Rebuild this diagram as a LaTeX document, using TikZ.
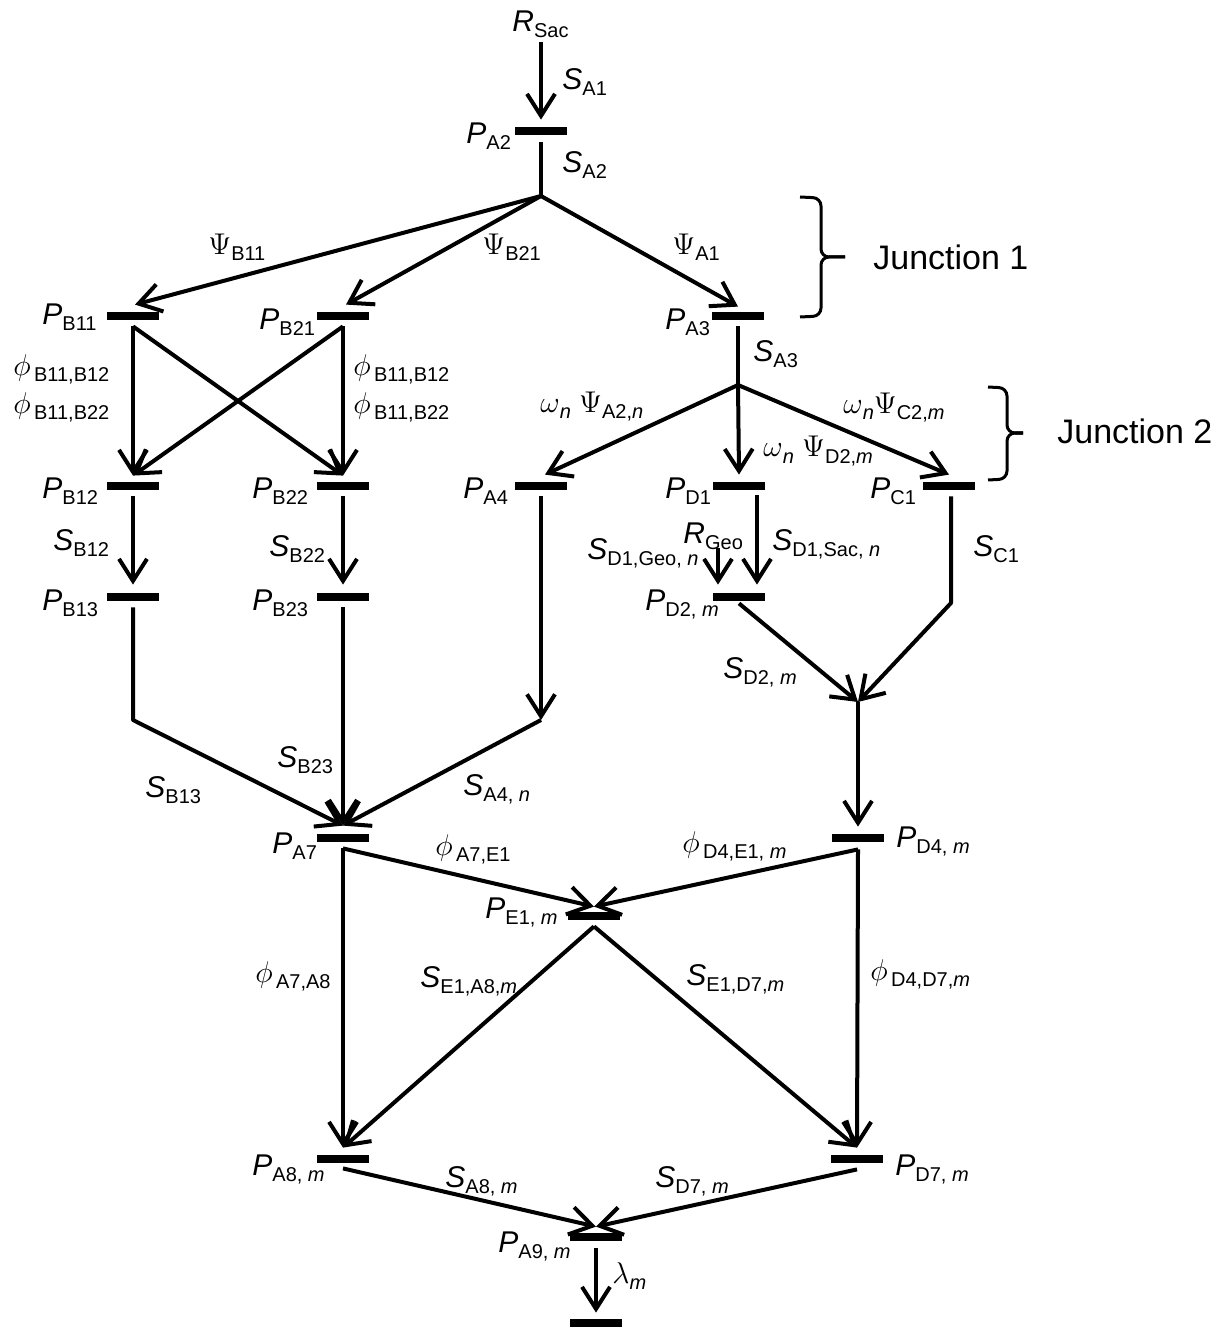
\RequirePackage{fix-cm}
\documentclass[tikz,border=0pt]{standalone}
\usepackage[no-math]{fontspec}
\setmainfont{Liberation Sans}
\usetikzlibrary{arrows.meta}
\newcommand\mainsz{\fontsize{15}{17}\selectfont}
\newcommand\subsz{\fontsize{10}{11}\selectfont}
\newcommand\V[2]{\textit{#1}\raisebox{-3pt}{\subsz #2}}
\newcommand\G[2]{$#1$\raisebox{-3pt}{\subsz #2}}
\begin{document}
\begin{tikzpicture}[x=0.5pt,y=-0.5pt,
  bar/.style={rectangle,fill=black,draw=none,minimum width=26pt,minimum height=4pt,inner sep=0pt},
  ln/.style={line width=2pt},
  arr/.style={line width=2pt,line join=round,-{Straight Barb[length=11pt,width=14pt]}},
  lbl/.style={anchor=base west,inner sep=0pt,font=\mainsz},
  jtxt/.style={anchor=base west,inner sep=0pt,font=\fontsize{17}{19}\selectfont},
  brc/.style={line width=1.5pt,rounded corners=4pt}]
\path[use as bounding box] (0,0) rectangle (1224,1331);
% bars
\node[bar] (PA2) at (541,131) {};
\node[bar] (PB11) at (133,316) {};
\node[bar] (PB21) at (343,316) {};
\node[bar] (PA3) at (738,316) {};
\node[bar] (PB12) at (133,486) {};
\node[bar] (PB22) at (343,486) {};
\node[bar] (PA4) at (541,486) {};
\node[bar] (PD1) at (739,486) {};
\node[bar] (PC1) at (949,486) {};
\node[bar] (PB13) at (133,597) {};
\node[bar] (PB23) at (343,597) {};
\node[bar] (PD2) at (739,597) {};
\node[bar] (PA7) at (343,838) {};
\node[bar] (PD4) at (858,838) {};
\node[bar] (PE1) at (594,916) {};
\node[bar] (PA8) at (343,1159) {};
\node[bar] (PD7) at (857,1159) {};
\node[bar] (PA9) at (596,1237) {};
\node[bar] (PEnd) at (596,1323) {};
% junction points
\coordinate (RSacS) at (541,42);
\coordinate (J1) at (541,196);
\coordinate (J2) at (738,385);
\coordinate (cB13) at (133,720);
\coordinate (cA4) at (541,720);
\coordinate (cC1) at (951,603);
\coordinate (cD4) at (858,702);
\coordinate (RGeoS) at (718,548);
% connectors
\draw[arr] (RSacS) -- ([yshift=3.5pt]PA2.north);
\draw[ln] ([yshift=-3.5pt]PA2.south) -- (J1);
\draw[arr] (J1) -- ([xshift=1pt,yshift=3.5pt]PB11.north);
\draw[arr] (J1) -- ([xshift=1.5pt,yshift=3.5pt]PB21.north);
\draw[arr] (J1) -- ([yshift=2.5pt]PA3.north);
\draw[ln] ([yshift=-3pt]PA3.south) -- (J2);
\draw[arr] (J2) -- ([xshift=2pt,yshift=3.5pt]PA4.north);
\draw[arr] (J2) -- ([yshift=3.5pt]PD1.north);
\draw[arr] (J2) -- ([yshift=3.5pt]PC1.north);
\draw[arr] ([yshift=-3pt]PB11.south) -- ([yshift=3pt]PB12.north);
\draw[arr] ([yshift=-3pt]PB11.south) -- ([yshift=3pt]PB22.north);
\draw[arr] ([yshift=-3pt]PB21.south) -- ([yshift=3pt]PB22.north);
\draw[arr] ([yshift=-3pt]PB21.south) -- ([yshift=3pt]PB12.north);
\draw[arr] ([yshift=-3pt]PB12.south) -- ([yshift=4pt]PB13.north);
\draw[arr] ([yshift=-3pt]PB22.south) -- ([yshift=4pt]PB23.north);
\draw[arr] ([yshift=-3pt]PB13.south) -- (cB13) -- ([yshift=4pt]PA7.north);
\draw[arr] ([yshift=-3pt]PB23.south) -- ([yshift=4pt]PA7.north);
\draw[arr] ([yshift=-3pt]PA4.south) -- (cA4);
\draw[arr] (cA4) -- ([yshift=4pt]PA7.north);
\draw[arr] ([xshift=9pt,yshift=-2.5pt]PD1.south) -- ([xshift=9pt,yshift=4pt]PD2.north);
\draw[arr] (RGeoS) -- ([xshift=-10.5pt,yshift=4pt]PD2.north);
\draw[arr] ([xshift=1pt,yshift=-3pt]PC1.south) -- (cC1) -- (cD4);
\draw[arr] ([yshift=-1pt]PD2.south) -- (cD4);
\draw[arr] (cD4) -- ([yshift=3.5pt]PD4.north);
\draw[arr] ([yshift=-3pt]PA7.south) -- ([yshift=3.5pt]PA8.north);
\draw[arr] ([yshift=-3pt]PA7.south) -- ([yshift=2.5pt]PE1.north);
\draw[arr] ([yshift=-3.5pt]PD4.south) -- ([yshift=2.5pt]PE1.north);
\draw[arr] ([yshift=-3.5pt]PD4.south) -- ([yshift=3.5pt]PD7.north);
\draw[arr] ([yshift=-3pt]PE1.south) -- ([yshift=3.5pt]PA8.north);
\draw[arr] ([yshift=-3pt]PE1.south) -- ([yshift=3.5pt]PD7.north);
\draw[arr] ([yshift=-2.5pt]PA8.south) -- ([yshift=3pt]PA9.north);
\draw[arr] ([yshift=-3pt]PD7.south) -- ([yshift=3pt]PA9.north);
\draw[arr] ([yshift=-3.5pt]PA9.south) -- ([yshift=3pt]PEnd.north);
% braces
\coordinate (B1a) at (800,197); \coordinate (B1b) at (800,317); \coordinate (B1t) at (845,257);
\coordinate (B2a) at (988,387); \coordinate (B2b) at (988,480); \coordinate (B2t) at (1023,433);
\draw[brc] (B1a) -- (821,198) -- (821,257) -- (B1t);
\draw[brc] (B1b) -- (821,316) -- (821,257) -- (B1t);
\draw[brc] (B2a) -- (1007,388) -- (1007,433) -- (B2t);
\draw[brc] (B2b) -- (1007,479) -- (1007,433) -- (B2t);
\node[jtxt] (J1txt) at (873,270) {Junction 1};
\node[jtxt] (J2txt) at (1057,444) {Junction 2};
% labels
\node[lbl] (lRSac) at (512,32) {\V{R}{Sac}};
\node[lbl] (lSA1) at (562,90) {\V{S}{A1}};
\node[lbl] (lPA2) at (466,144) {\V{P}{A2}};
\node[lbl] (lSA2) at (562,173) {\V{S}{A2}};
\node[lbl] (lPsiB11) at (208,255) {\G{\Psi}{B11}};
\node[lbl] (lPsiB21) at (482,255) {\G{\Psi}{B21}};
\node[lbl] (lPsiA1) at (672,255) {\G{\Psi}{A1}};
\node[lbl] (lPB11) at (42,325) {\V{P}{B11}};
\node[lbl] (lPB21) at (259,330) {\V{P}{B21}};
\node[lbl] (lPA3) at (665,330) {\V{P}{A3}};
\node[lbl] (lSA3) at (753,362) {\V{S}{A3}};
\node[lbl] (lphiL1) at (13,376) {\G{\phi}{\,B11,B12}};
\node[lbl] (lphiL2) at (13,414) {\G{\phi}{\,B11,B22}};
\node[lbl] (lphiR1) at (353,376) {\G{\phi}{\,B11,B12}};
\node[lbl] (lphiR2) at (353,414) {\G{\phi}{\,B11,B22}};
\node[lbl] (lPB12) at (42,498) {\V{P}{B12}};
\node[lbl] (lPB22) at (252,498) {\V{P}{B22}};
\node[lbl] (lSB12) at (53,550) {\V{S}{B12}};
\node[lbl] (lSB22) at (269,556) {\V{S}{B22}};
\node[lbl] (lPB13) at (42,610) {\V{P}{B13}};
\node[lbl] (lPB23) at (252,610) {\V{P}{B23}};
\node[lbl] (lPA4) at (463,498) {\V{P}{A4}};
\node[lbl] (lPD1) at (665,498) {\V{P}{D1}};
\node[lbl] (lomA2) at (540,413) {\G{\omega}{\textit{n}}\ \G{\Psi}{A2,\textit{n}}};
\node[lbl] (lomD2) at (763,457) {\G{\omega}{\textit{n}}\ \G{\Psi}{D2,\textit{m}}};
\node[lbl] (lomC2) at (843,414) {\G{\omega}{\textit{n}}\G{\Psi}{C2,\textit{m}}};
\node[lbl] (lRGeo) at (683,543) {\V{R}{Geo}};
\node[lbl] (lSD1Geo) at (587,559) {\V{S}{D1,Geo, \textit{n}}};
\node[lbl] (lSD1Sac) at (772,550) {\V{S}{D1,Sac, \textit{n}}};
\node[lbl] (lPC1) at (870,498) {\V{P}{C1}};
\node[lbl] (lSC1) at (973,556) {\V{S}{C1}};
\node[lbl] (lPD2) at (645,610) {\V{P}{D2, \textit{m}}};
\node[lbl] (lSD2) at (723,678) {\V{S}{D2, \textit{m}}};
\node[lbl] (lSB13) at (145,797) {\V{S}{B13}};
\node[lbl] (lSB23) at (277,767) {\V{S}{B23}};
\node[lbl] (lSA4) at (463,795) {\V{S}{A4, \textit{n}}};
\node[lbl] (lPA7) at (272,853) {\V{P}{A7}};
\node[lbl] (lphiA7E1) at (435,855) {\G{\phi}{\,A7,E1}};
\node[lbl] (lPE1) at (485,918) {\V{P}{E1, \textit{m}}};
\node[lbl] (lphiD4E1) at (682,852) {\G{\phi}{\,D4,E1, \textit{m}}};
\node[lbl] (lPD4) at (896,847) {\V{P}{D4, \textit{m}}};
\node[lbl] (lphiA7A8) at (255,982) {\G{\phi}{\,A7,A8}};
\node[lbl] (lSE1A8) at (420,987) {\V{S}{E1,A8,\textit{m}}};
\node[lbl] (lSE1D7) at (686,985) {\V{S}{E1,D7,\textit{m}}};
\node[lbl] (lphiD4D7) at (870,980) {\G{\phi}{\,D4,D7,\textit{m}}};
\node[lbl] (lPA8) at (252,1175) {\V{P}{A8, \textit{m}}};
\node[lbl] (lSA8) at (445,1187) {\V{S}{A8, \textit{m}}};
\node[lbl] (lSD7) at (655,1187) {\V{S}{D7, \textit{m}}};
\node[lbl] (lPD7) at (895,1175) {\V{P}{D7, \textit{m}}};
\node[lbl] (lPA9) at (498,1252) {\V{P}{A9, \textit{m}}};
\node[lbl] (llam) at (612,1283) {\G{\lambda}{\textit{m}}};
\end{tikzpicture}
\end{document}
